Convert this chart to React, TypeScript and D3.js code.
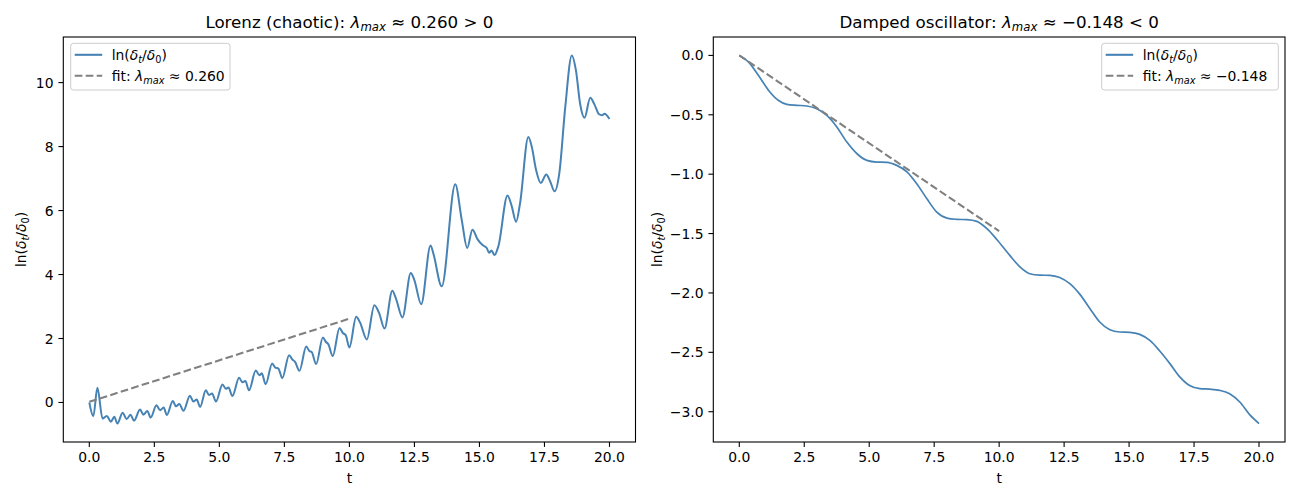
import * as d3 from 'd3';

// values
const lorenzT = [
  0, 0.155, 0.31, 0.51, 0.67, 0.83, 0.96, 1.08, 1.28, 1.44, 1.58, 1.72, 1.95, 2.08, 2.23, 2.36,
  2.58, 2.72, 2.86, 2.98, 3.21, 3.33, 3.46, 3.62, 3.87, 4.0, 4.13, 4.26, 4.48, 4.6, 4.72, 4.87,
  5.12, 5.25, 5.35, 5.5, 5.76, 5.89, 6.0, 6.14, 6.4, 6.54, 6.63, 6.78, 7.03, 7.15, 7.27, 7.42,
  7.68, 7.81, 7.91, 8.08, 8.34, 8.46, 8.55, 8.72, 8.98, 9.1, 9.19, 9.36, 9.62, 9.74, 9.86, 10.0,
  10.26, 10.41, 10.67, 10.96, 11.14, 11.35, 11.65, 11.79, 12.04, 12.36, 12.5, 12.76, 13.12, 13.23,
  13.55, 14.07, 14.32, 14.53, 14.73, 14.93, 15.12, 15.28, 15.37, 15.46, 15.58, 15.73, 16.08, 16.23,
  16.41, 16.56, 16.88, 17.01, 17.18, 17.36, 17.57, 17.72, 17.89, 18.07, 18.3, 18.55, 18.71, 18.87,
  19.04, 19.26, 19.42, 19.6, 19.71, 19.81, 20.0,
];
const lorenzY = [
  0.0, -0.43, 0.46, -0.5, -0.42, -0.6, -0.45, -0.66, -0.32, -0.52, -0.38, -0.57, -0.22, -0.38, -0.27, -0.47,
  -0.09, -0.24, -0.16, -0.39, 0.05, -0.12, -0.05, -0.26, 0.21, 0.03, 0.09, -0.14, 0.38, 0.23, 0.28, 0.03,
  0.56, 0.43, 0.47, 0.2, 0.77, 0.63, 0.67, 0.38, 1.0, 0.85, 0.91, 0.57, 1.22, 1.09, 1.06, 0.76,
  1.48, 1.34, 1.27, 0.99, 1.75, 1.61, 1.58, 1.2, 2.03, 1.89, 1.82, 1.45, 2.33, 2.18, 2.1, 1.72,
  2.68, 2.5, 1.97, 3.04, 2.8, 2.31, 3.49, 3.25, 2.66, 4.05, 3.82, 3.07, 4.91, 4.65,
  3.63, 6.82, 5.7, 4.83, 5.4, 5.1, 4.92, 4.83, 4.68, 4.75, 4.61, 4.89, 6.47, 6.17,
  5.65, 6.22, 8.3, 8.0, 7.26, 6.86, 7.13, 6.91, 6.6, 7.16, 9.24, 10.85, 10.38, 9.34,
  8.9, 9.53, 9.32, 9.01, 8.98, 9.03, 8.86,
];
const lorenzFitT = [0, 10];
const lorenzFitY = [0.02, 2.62];

const dampedT = [
  0, 0.36, 0.74, 1.13, 1.51, 1.83, 2.22, 2.6, 2.98, 3.37, 3.76, 4.14, 4.53, 4.91, 5.29, 5.68,
  6.06, 6.45, 6.83, 7.22, 7.6, 7.99, 8.37, 8.76, 9.14, 9.53, 9.91, 10.41, 10.8, 11.18, 11.57, 11.95,
  12.33, 12.72, 13.1, 13.49, 13.87, 14.26, 14.64, 15.03, 15.41, 15.8, 16.18, 16.57, 16.95, 17.33,
  17.72, 18.1, 18.49, 18.87, 19.26, 19.64, 20.0,
];
const dampedY = [
  0, -0.056, -0.17, -0.295, -0.38, -0.412, -0.42, -0.426, -0.449, -0.505, -0.604, -0.73, -0.828, -0.884, -0.898, -0.9,
  -0.926, -0.98, -1.08, -1.207, -1.32, -1.37, -1.38, -1.383, -1.397, -1.459, -1.55, -1.684, -1.78, -1.838, -1.85, -1.852,
  -1.87, -1.922, -2.01, -2.13, -2.245, -2.31, -2.329, -2.332, -2.349, -2.4, -2.489, -2.595, -2.707, -2.78,
  -2.806, -2.81, -2.82, -2.848, -2.918, -3.025, -3.1,
];
const dampedFitT = [0, 10];
const dampedFitY = [0, -1.48];

const xTicks = [0, 2.5, 5, 7.5, 10, 12.5, 15, 17.5, 20];
const lorenzYTicks = [0, 2, 4, 6, 8, 10];
const dampedYTicks = [0, -0.5, -1, -1.5, -2, -2.5, -3];

const FONT = 'DejaVu Sans';
const BLUE = '#4682b4';
const GRAY = '#808080';
const TOP = 37;
const BOTTOM = 442;

type Seg = { s: string; it?: boolean; sub?: boolean };

function MathText({ segs, fs, ...rest }: { segs: Seg[]; fs: number; [k: string]: any }) {
  let shifted = false;
  const spans = segs.map((g, i) => {
    let dy = 0;
    if (g.sub && !shifted) { dy = fs * 0.22; shifted = true; }
    if (!g.sub && shifted) { dy = -fs * 0.22; shifted = false; }
    return (
      <tspan key={i} dy={dy || undefined} fontStyle={g.it ? 'italic' : 'normal'}
        fontSize={g.sub ? fs * 0.7 : fs}>{g.s}</tspan>
    );
  });
  return <text fontFamily={FONT} fontSize={fs} fill="#000" style={{ whiteSpace: 'pre' }} {...rest}>{spans}</text>;
}

const lnLabel: Seg[] = [
  { s: 'ln(' }, { s: 'δ', it: true }, { s: 't', it: true, sub: true }, { s: '/' },
  { s: 'δ', it: true }, { s: '0', sub: true }, { s: ')' },
];

interface PanelProps {
  x0: number; x1: number;
  t: number[]; y: number[]; fitT: number[]; fitY: number[];
  yTicks: number[]; yFmt: (v: number) => string;
  title: Seg[]; fitLabel: Seg[];
  legendX: number; legendW: number; ylabelX: number; lineW: number;
}

function Panel(p: PanelProps) {
  const x = d3.scaleLinear().domain([-1, 21]).range([p.x0, p.x1]);
  const [lo, hi] = d3.extent(p.y) as [number, number];
  const m = (hi - lo) * 0.05;
  const y = d3.scaleLinear().domain([lo - m, hi + m]).range([BOTTOM, TOP]);

  const curve = d3.line<number>().x((_, i) => x(p.t[i])).y(v => y(v)).curve(d3.curveMonotoneX)(p.y) ?? '';
  const fit = d3.line<number>().x((_, i) => x(p.fitT[i])).y(v => y(v))(p.fitY) ?? '';
  const cx = (p.x0 + p.x1) / 2;
  const ly = 43.3;

  return (
    <g>
      <path d={curve} fill="none" stroke={BLUE} strokeWidth={p.lineW} strokeLinejoin="round" />
      <path d={fit} fill="none" stroke={GRAY} strokeWidth={2.08} strokeDasharray="7.7,3.3" />
      <rect x={p.x0} y={TOP} width={p.x1 - p.x0} height={BOTTOM - TOP} fill="none" stroke="#000" strokeWidth={1.1} />

      {xTicks.map(v => (
        <g key={'x' + v}>
          <line x1={x(v)} x2={x(v)} y1={BOTTOM} y2={BOTTOM + 4.9} stroke="#000" strokeWidth={1.1} />
          <text x={x(v)} y={BOTTOM + 20} textAnchor="middle" fontFamily={FONT} fontSize={13.9}>{d3.format('.1f')(v)}</text>
        </g>
      ))}
      {p.yTicks.map(v => (
        <g key={'y' + v}>
          <line x1={p.x0 - 4.9} x2={p.x0} y1={y(v)} y2={y(v)} stroke="#000" strokeWidth={1.1} />
          <text x={p.x0 - 9.8} y={y(v) + 5} textAnchor="end" fontFamily={FONT} fontSize={13.9}>{p.yFmt(v)}</text>
        </g>
      ))}

      <text x={cx} y={483} textAnchor="middle" fontFamily={FONT} fontSize={13.9}>t</text>
      <MathText segs={lnLabel} fs={13.9} textAnchor="middle"
        transform={`translate(${p.ylabelX},${(TOP + BOTTOM) / 2}) rotate(-90)`} />
      <MathText segs={p.title} fs={16.7} x={cx} y={27.5} textAnchor="middle" />

      <rect x={p.legendX} y={ly} width={p.legendW} height={46.7} rx={2.8}
        fill="#fff" fillOpacity={0.8} stroke="#cccccc" strokeWidth={1} />
      <line x1={p.legendX + 4} x2={p.legendX + 31.5} y1={ly + 11.5} y2={ly + 11.5} stroke={BLUE} strokeWidth={2.08} />
      <line x1={p.legendX + 4} x2={p.legendX + 31.5} y1={ly + 32.5} y2={ly + 32.5} stroke={GRAY} strokeWidth={2.08} strokeDasharray="7.7,3.3" />
      <MathText segs={lnLabel} fs={13.9} x={p.legendX + 41} y={ly + 16.8} />
      <MathText segs={p.fitLabel} fs={13.9} x={p.legendX + 41} y={ly + 37.5} />
    </g>
  );
}

export default function App() {
  return (
    <svg width={1300} height={500} viewBox="0 0 1300 500"
      style={{ position: 'absolute', left: 0, top: 0, background: '#fff' }}>
      <rect width={1300} height={500} fill="#fff" />
      <Panel
        x0={63.3} x1={635.5}
        t={lorenzT} y={lorenzY} fitT={lorenzFitT} fitY={lorenzFitY}
        yTicks={lorenzYTicks} yFmt={d3.format('d')}
        title={[{ s: 'Lorenz (chaotic): ' }, { s: 'λ', it: true }, { s: 'max', it: true, sub: true }, { s: ' ≈ 0.260 > 0' }]}
        fitLabel={[{ s: 'fit: ' }, { s: 'λ', it: true }, { s: 'max', it: true, sub: true }, { s: ' ≈ 0.260' }]}
        legendX={70.7} legendW={159.3} ylabelX={26} lineW={2}
      />
      <Panel
        x0={713.3} x1={1285}
        t={dampedT} y={dampedY} fitT={dampedFitT} fitY={dampedFitY}
        yTicks={dampedYTicks} yFmt={d3.format('.1f')}
        title={[{ s: 'Damped oscillator: ' }, { s: 'λ', it: true }, { s: 'max', it: true, sub: true }, { s: ' ≈ −0.148 < 0' }]}
        fitLabel={[{ s: 'fit: ' }, { s: 'λ', it: true }, { s: 'max', it: true, sub: true }, { s: ' ≈ −0.148' }]}
        legendX={1101.7} legendW={176.6} ylabelX={662} lineW={1.7}
      />
    </svg>
  );
}
